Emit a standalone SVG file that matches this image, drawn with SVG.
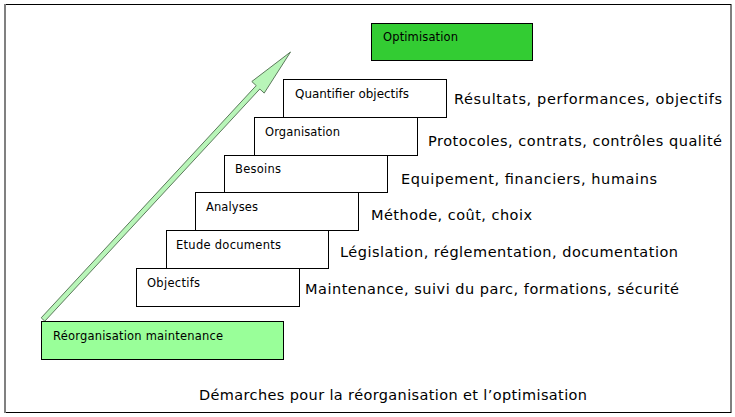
<svg xmlns="http://www.w3.org/2000/svg" width="735" height="417" viewBox="0 0 735 417">
<style>
.box{fill:#ffffff;stroke:#000000;stroke-width:1}
.lbl{font-family:"DejaVu Sans",Verdana,sans-serif;font-size:11.5px;fill:#000000}
.desc{font-family:"DejaVu Sans",Verdana,sans-serif;font-size:14.5px;fill:#000000}
</style>
<rect x="0" y="0" width="735" height="417" fill="#ffffff"/>
<rect x="5.5" y="4.5" width="725.5" height="408" fill="#ffffff" stroke="#000000" stroke-width="1"/>
<line x1="5" y1="4" x2="5" y2="413" stroke="#808080" stroke-width="2"/>

<g id="connectors">
<polygon points="41.2,317.8 256.2,85.6 251.8,81.5 290.5,52 264.2,93.1 259.8,89 44.8,321.2" fill="#b8f5b8" stroke="#5c7a5c" stroke-width="1" stroke-linejoin="miter"/>
</g>

<g id="optimisation">
<rect x="371.5" y="23.5" width="161" height="37" fill="#33cc33" stroke="#000000"/>
<text class="lbl" x="383" y="41" textLength="75" lengthAdjust="spacing">Optimisation</text>
</g>
<g id="quantifier">
<rect class="box" x="283.5" y="79.5" width="163" height="38"/>
<text class="lbl" x="295" y="98" textLength="114" lengthAdjust="spacingAndGlyphs">Quantifier objectifs</text>
</g>
<g id="organisation">
<rect class="box" x="254.5" y="117.5" width="163" height="38"/>
<text class="lbl" x="265" y="136" textLength="75" lengthAdjust="spacing">Organisation</text>
</g>
<g id="besoins">
<rect class="box" x="224.5" y="155.5" width="163" height="37"/>
<text class="lbl" x="235" y="173" textLength="46" lengthAdjust="spacing">Besoins</text>
</g>
<g id="analyses">
<rect class="box" x="195.5" y="192.5" width="163" height="38"/>
<text class="lbl" x="206" y="211" textLength="52" lengthAdjust="spacing">Analyses</text>
</g>
<g id="etude">
<rect class="box" x="166.5" y="230.5" width="162" height="38"/>
<text class="lbl" x="176" y="249" textLength="105" lengthAdjust="spacing">Etude documents</text>
</g>
<g id="objectifs">
<rect class="box" x="136.5" y="268.5" width="163" height="38"/>
<text class="lbl" x="147" y="287" textLength="53" lengthAdjust="spacing">Objectifs</text>
</g>
<g id="reorganisation">
<rect x="41.5" y="321.5" width="242" height="38" fill="#99ff99" stroke="#000000"/>
<text class="lbl" x="53" y="340" textLength="170" lengthAdjust="spacing">Réorganisation maintenance</text>
</g>

<g id="descriptions">
<text class="desc" x="454" y="104" textLength="268" lengthAdjust="spacing">Résultats, performances, objectifs</text>
<text class="desc" x="428" y="146" textLength="294" lengthAdjust="spacing">Protocoles, contrats, contrôles qualité</text>
<text class="desc" x="401" y="184" textLength="256" lengthAdjust="spacing">Equipement, financiers, humains</text>
<text class="desc" x="371" y="220" textLength="161" lengthAdjust="spacing">Méthode, coût, choix</text>
<text class="desc" x="340" y="257" textLength="338" lengthAdjust="spacing">Législation, réglementation, documentation</text>
<text class="desc" x="305" y="294" textLength="374" lengthAdjust="spacing">Maintenance, suivi du parc, formations, sécurité</text>
<text class="desc" x="199" y="400" textLength="388" lengthAdjust="spacing">Démarches pour la réorganisation et l’optimisation</text>
</g>
</svg>
